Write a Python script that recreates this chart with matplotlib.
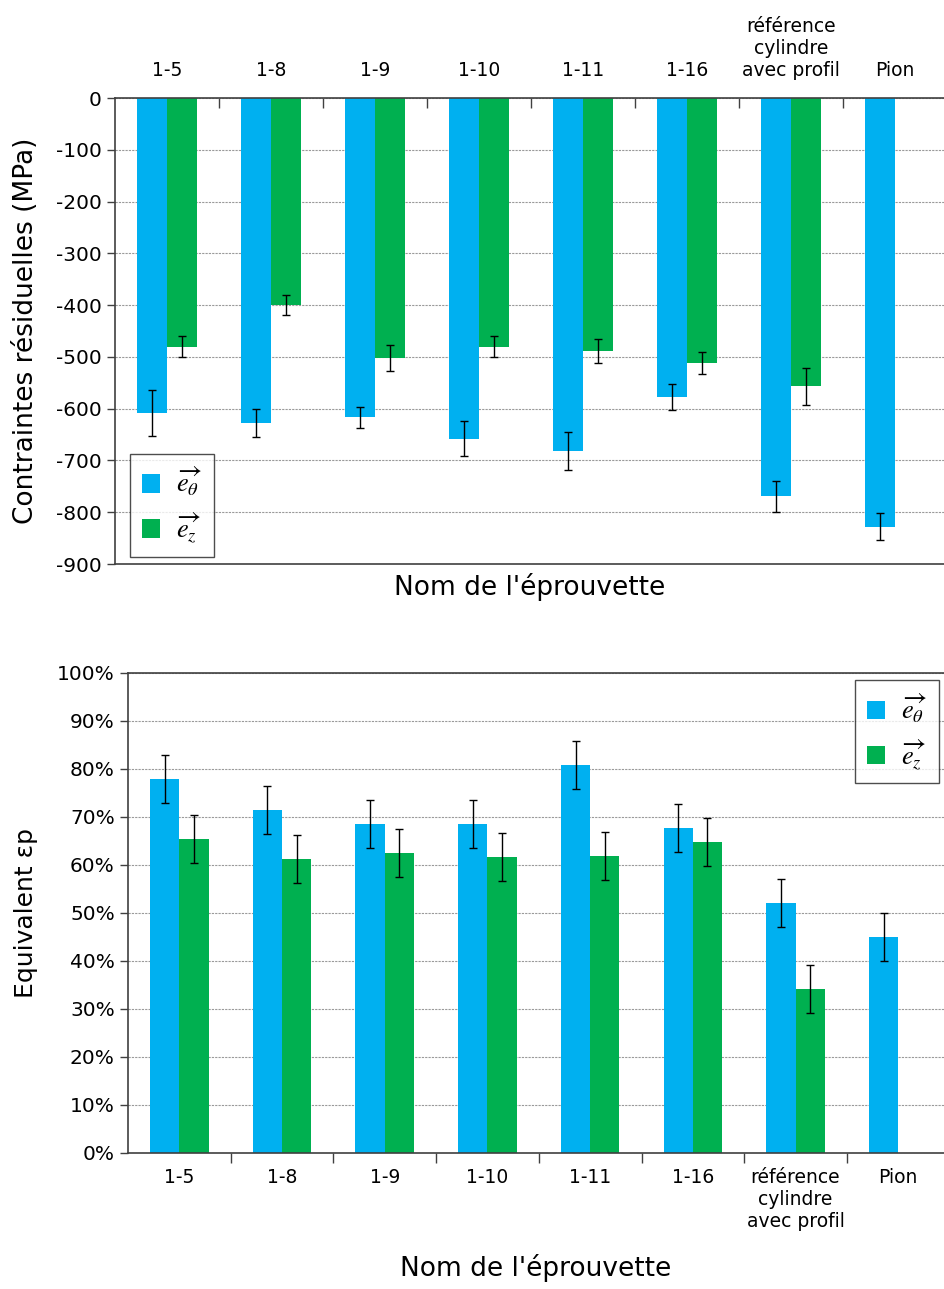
import numpy as np
import matplotlib.pyplot as plt

plt.rcParams['font.family'] = 'DejaVu Sans'
plt.rcParams['mathtext.fontset'] = 'stix'
plt.rcParams['axes.unicode_minus'] = False

labels = ['1-5', '1-8', '1-9', '1-10', '1-11', '1-16',
          'référence\ncylindre\navec profil', 'Pion']

# residual stresses (MPa)
sig_theta = [-608, -627, -617, -658, -682, -577, -769, -828]
sig_theta_err = [44, 27, 20, 34, 36, 25, 30, 26]
sig_z = [-480, -400, -503, -480, -489, -512, -557, np.nan]
sig_z_err = [20, 20, 25, 20, 23, 21, 36, np.nan]

# equivalent plastic strain (%)
eps_theta = [77.9, 71.5, 68.6, 68.6, 80.9, 67.7, 52.1, 45.0]
eps_theta_err = [5, 5, 5, 5, 5, 5, 5, 5]
eps_z = [65.4, 61.2, 62.4, 61.6, 61.8, 64.7, 34.1, np.nan]
eps_z_err = [5, 5, 5, 5, 5, 5, 5, np.nan]

blue = '#00B0F0'
green = '#00B050'
lbl_theta = r'$\overrightarrow{e_\theta}$'
lbl_z = r'$\overrightarrow{e_z}$'

x = np.arange(len(labels))
w = 0.285
err_style = dict(ecolor='black', elinewidth=1, capsize=3, capthick=1)

fig = plt.figure(figsize=(9.44, 12.89), dpi=100)

def style_common(ax):
    for s in ['left', 'top', 'bottom']:
        ax.spines[s].set_color('#404040')
        ax.spines[s].set_linewidth(1.2)
    ax.spines['right'].set_visible(False)
    ax.set_axisbelow(True)
    ax.grid(axis='y', color='#9a9a9a', linestyle=(0, (2, 1)), linewidth=0.8)
    ax.tick_params(axis='y', labelsize=14.5, direction='out', length=6, width=1, color='#404040')
    ax.set_xticks(x)
    ax.set_xticklabels(labels, fontsize=13.5)
    ax.set_xticks(np.arange(len(labels) - 1) + 0.5, minor=True)
    ax.tick_params(axis='x', which='major', length=0, pad=11)
    ax.tick_params(axis='x', which='minor', length=7, width=1, color='#404040')

def add_legend(ax, **kw):
    leg = ax.legend(fontsize=19, frameon=True, fancybox=False, edgecolor='#202020',
                    handlelength=0.7, handleheight=0.7, handletextpad=0.6,
                    labelspacing=0.45, borderpad=0.45, borderaxespad=0, **kw)
    leg.get_frame().set_linewidth(1.0)
    return leg

# top chart: residual stresses
ax1 = fig.add_axes([115 / 944, 1 - 564 / 1289, 829 / 944, 466 / 1289])
ax1.bar(x - w / 2, sig_theta, w, color=blue, label=lbl_theta,
        yerr=sig_theta_err, error_kw=err_style)
ax1.bar(x + w / 2, sig_z, w, color=green, label=lbl_z,
        yerr=sig_z_err, error_kw=err_style)
ax1.set_ylim(-900, 0)
ax1.set_yticks(np.arange(-900, 1, 100))
ax1.set_xlim(-0.5, -0.5 + 829 / 104)
style_common(ax1)
ax1.xaxis.tick_top()
ax1.tick_params(axis='x', which='minor', direction='in', top=True, bottom=False)
ax1.tick_params(axis='x', which='major', pad=13)
ax1.set_ylabel('Contraintes résiduelles (MPa)', fontsize=19)
ax1.yaxis.set_label_coords(-0.092, 0.5)
ax1.set_xlabel("Nom de l'éprouvette", fontsize=19)
ax1.xaxis.set_label_position('bottom')
ax1.xaxis.set_label_coords(0.5, -0.02)
ax1.xaxis.label.set_va('top')
add_legend(ax1, loc='lower left', bbox_to_anchor=(0.018, 0.015))

# bottom chart: equivalent plastic strain
ax2 = fig.add_axes([128 / 944, 1 - 1153 / 1289, 816 / 944, 480 / 1289])
ax2.bar(x - w / 2, eps_theta, w, color=blue, label=lbl_theta,
        yerr=eps_theta_err, error_kw=err_style)
ax2.bar(x + w / 2, eps_z, w, color=green, label=lbl_z,
        yerr=eps_z_err, error_kw=err_style)
ax2.set_ylim(0, 100)
ax2.set_yticks(np.arange(0, 101, 10))
ax2.set_yticklabels([f'{v}%' for v in range(0, 101, 10)])
ax2.set_xlim(-0.5, -0.5 + 816 / 102.7)
style_common(ax2)
ax2.tick_params(axis='x', which='minor', direction='out')
ax2.set_ylabel('Equivalent εp', fontsize=18)
ax2.yaxis.set_label_coords(-0.11, 0.5)
ax2.set_xlabel("Nom de l'éprouvette", fontsize=19)
ax2.xaxis.set_label_coords(0.5, -0.21)
add_legend(ax2, loc='upper right', bbox_to_anchor=(0.994, 0.985))

fig.savefig('out.png', dpi=100)
